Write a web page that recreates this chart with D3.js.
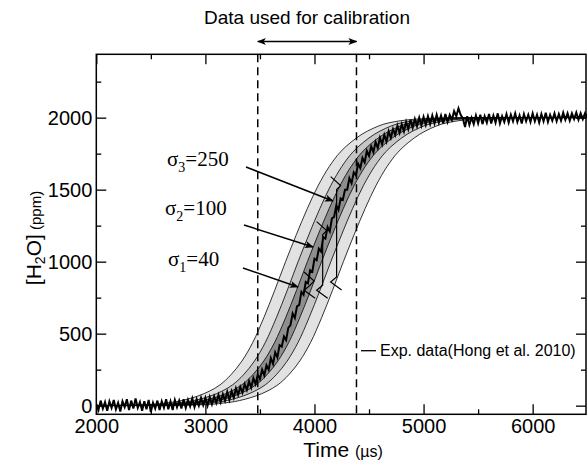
<!DOCTYPE html>
<html>
<head>
<meta charset="utf-8">
<script src="https://cdn.jsdelivr.net/npm/d3@7"></script>
<style>
  body { margin: 0; background: #fff; }
  svg { display: block; }
  text { font-family: "Liberation Sans", Arial, sans-serif; fill: #000; }
  .serif { font-family: "Liberation Serif", "Times New Roman", serif; }
</style>
</head>
<body>
<div id="chart"></div>
<script>
// model curve (time in µs, H2O in ppm)
const modelTime = [2000, 2500, 2800, 2900, 3000, 3100, 3200, 3300, 3400, 3500, 3600, 3700, 3800, 3900,
  4000, 4100, 4200, 4300, 4400, 4500, 4600, 4700, 4800, 4900, 5000, 5100, 5200, 5400, 5600, 6500];
const modelPpm = [0, 3, 10, 18, 28, 45, 68, 100, 145, 215, 310, 440, 610, 800,
  1000, 1190, 1370, 1530, 1660, 1760, 1830, 1885, 1925, 1955, 1972, 1983, 1990, 1997, 2000, 2000];

// band half widths in time (µs), outer to inner
const bandShift = [265, 150, 65];
const bandFill = ['#e2e2e2', '#c6c6c6', '#8e8e8e'];

// experimental trace, one sample every 20 µs from 2000 µs
const expStart = 2000;
const expStep = 20;
const expPpm = [
  10, -30, 35, -20, 25, -35, 30, -15, 40, -25,
  20, -40, 30, -10, 45, -30, 35, -20, 50, -15,
  25, -35, 30, -25, 40, -45, 20, -20, 35, -30,
  30, -15, 45, -25, 30, -30, 40, -10, 35, -20,
  45, -15, 40, -5, 50, -10, 45, 0, 55, 5,
  55, 0, 60, 10, 65, 20, 75, 25, 80, 35,
  95, 40, 100, 55, 120, 75, 130, 90, 150, 110,
  170, 125, 190, 150, 215, 185, 250, 210, 280, 250,
  330, 290, 370, 335, 420, 410, 480, 455, 540, 560,
  640, 610, 690, 700, 790, 770, 860, 850, 940, 930,
  1020, 1010, 1090, 1070, 1170, 1160, 1240, 1210, 1300, 1310,
  1390, 1360, 1440, 1430, 1500, 1500, 1580, 1545, 1620, 1600,
  1680, 1650, 1720, 1690, 1770, 1735, 1800, 1760, 1830, 1790,
  1860, 1815, 1880, 1835, 1905, 1860, 1920, 1880, 1945, 1895,
  1955, 1905, 1970, 1920, 1985, 1930, 1990, 1940, 2000, 1945,
  2005, 1950, 2010, 1955, 2015, 1960, 2020, 1965, 2015, 1960,
  2025, 1970, 2020, 1985, 2045, 2010, 2065, 2020, 1995, 1935,
  2010, 1950, 2000, 1955, 2015, 1960, 2020, 1955, 2010, 1965,
  2025, 1960, 2015, 1965, 2030, 1960, 2010, 1970, 2025, 1965,
  2020, 1975, 2030, 1970, 2015, 1960, 2025, 1975, 2020, 1970,
  2030, 1975, 2020, 1965, 2025, 1975, 2035, 1970, 2020, 1980,
  2030, 1975, 2025, 1980, 2035, 1985, 2030, 1980, 2030, 1990,
  2035, 1985, 2030, 1990, 2030, 2000
];

// vertical markers inside the bands: time, low, high
const markers = [
  { t: 4203, lo: 838, hi: 1556 },
  { t: 4075, lo: 781, hi: 1243 },
  { t: 3960, lo: 781, hi: 893 },
];

const calibRange = [3480, 4385];

const xTicks = [2000, 3000, 4000, 5000, 6000];
const xMinor = [2500, 3500, 4500, 5500, 6500];
const yTicks = [0, 500, 1000, 1500, 2000];
const yMinor = [250, 750, 1250, 1750, 2250];

const sigmaLabels = [
  { sub: '3', val: '=250', x: 167, y: 166, from: [246, 167], to: [333, 201] },
  { sub: '2', val: '=100', x: 165, y: 215, from: [244, 225], to: [313, 247] },
  { sub: '1', val: '=40', x: 168, y: 266, from: [243, 268], to: [298, 287] },
];

const WIDTH = 587;
const HEIGHT = 461;
const PLOT = { left: 96.3, right: 587.2, top: 54.3, bottom: 414.3 };

const svg = d3.select('#chart').append('svg')
  .attr('width', WIDTH)
  .attr('height', HEIGHT);

const x = d3.scaleLinear([2000, 6500], [PLOT.left, PLOT.right]);
const y = d3.scaleLinear([-60, 2440], [PLOT.bottom, PLOT.top]);

const defs = svg.append('defs');
defs.append('clipPath').attr('id', 'plot-clip')
  .append('rect')
  .attr('x', PLOT.left).attr('y', PLOT.top)
  .attr('width', PLOT.right - PLOT.left).attr('height', PLOT.bottom - PLOT.top);

const arrowHead = (id) => defs.append('marker')
  .attr('id', id)
  .attr('viewBox', '0 0 10 10')
  .attr('refX', 9).attr('refY', 5)
  .attr('markerWidth', 9).attr('markerHeight', 9)
  .attr('markerUnits', 'userSpaceOnUse')
  .attr('orient', 'auto-start-reverse')
  .append('path')
  .attr('d', 'M0,1 L10,5 L0,9 L2.5,5 Z')
  .attr('fill', '#000');
arrowHead('arrow');

const plot = svg.append('g').attr('clip-path', 'url(#plot-clip)');

const model = modelTime.map((t, i) => [t, modelPpm[i]]);
const line = d3.line()
  .x((d) => x(d[0]))
  .y((d) => y(d[1]))
  .curve(d3.curveCatmullRom);

// shaded bands: the model curve shifted left and right in time
bandShift.forEach((s, i) => {
  const leftEdge = model.map(([t, v]) => [t - s, v]);
  const rightEdge = model.map(([t, v]) => [t + s, v]);
  const back = line(rightEdge.slice().reverse());
  plot.append('path')
    .attr('d', line(leftEdge) + 'L' + back.slice(1) + 'Z')
    .attr('fill', bandFill[i])
    .attr('stroke', 'none');
});
bandShift.forEach((s) => {
  [-s, s].forEach((shift) => {
    plot.append('path')
      .attr('d', line(model.map(([t, v]) => [t + shift, v])))
      .attr('fill', 'none')
      .attr('stroke', '#000')
      .attr('stroke-width', 0.8);
  });
});

// small vertical markers with chevron caps
markers.forEach(({ t, lo, hi }) => {
  const px = x(t);
  const top = y(hi);
  const bot = y(lo);
  plot.append('path')
    .attr('d', `M${px - 6},${top - 5} L${px + 4},${top + 4} L${px},${top + 8} L${px},${bot - 8}` +
      ` L${px - 6},${bot - 3} L${px + 5},${bot + 5}`)
    .attr('fill', 'none')
    .attr('stroke', '#000')
    .attr('stroke-width', 1.2);
});

// experimental data
const expData = expPpm.map((v, i) => [expStart + i * expStep, v]);
plot.append('path')
  .attr('d', d3.line().x((d) => x(d[0])).y((d) => y(d[1]))(expData))
  .attr('fill', 'none')
  .attr('stroke', '#000')
  .attr('stroke-width', 2)
  .attr('stroke-linejoin', 'miter');

// calibration window
calibRange.forEach((t) => {
  svg.append('line')
    .attr('x1', x(t)).attr('x2', x(t))
    .attr('y1', PLOT.top).attr('y2', PLOT.bottom)
    .attr('stroke', '#000')
    .attr('stroke-width', 1.5)
    .attr('stroke-dasharray', '8,5');
});
svg.append('line')
  .attr('x1', x(calibRange[0])).attr('x2', x(calibRange[1]))
  .attr('y1', 41.5).attr('y2', 41.5)
  .attr('stroke', '#000')
  .attr('stroke-width', 1.3)
  .attr('marker-start', 'url(#arrow)')
  .attr('marker-end', 'url(#arrow)');
svg.append('text')
  .attr('x', 307).attr('y', 24)
  .attr('text-anchor', 'middle')
  .style('font-size', '19px')
  .text('Data used for calibration');

// axes with inward ticks
const axisGroup = (axis, tx, ty) => {
  const g = svg.append('g').attr('transform', `translate(${tx},${ty})`).call(axis);
  g.attr('font-family', null);
  g.select('.domain').remove();
  g.selectAll('line').attr('stroke-width', 1.3);
  return g;
};
const fmt = d3.format('d');
const bottom = axisGroup(d3.axisBottom(x).tickValues(xTicks).tickSize(-10).tickPadding(5).tickFormat(fmt), 0, PLOT.bottom);
bottom.selectAll('text').style('font-size', '20px');
axisGroup(d3.axisBottom(x).tickValues(xMinor).tickSize(-5).tickFormat(''), 0, PLOT.bottom);
axisGroup(d3.axisTop(x).tickValues(xTicks).tickSize(-10).tickFormat(''), 0, PLOT.top);
axisGroup(d3.axisTop(x).tickValues(xMinor).tickSize(-5).tickFormat(''), 0, PLOT.top);

const left = axisGroup(d3.axisLeft(y).tickValues(yTicks).tickSize(-10).tickPadding(4).tickFormat(fmt), PLOT.left, 0);
left.selectAll('text').style('font-size', '20px');
axisGroup(d3.axisLeft(y).tickValues(yMinor).tickSize(-5).tickFormat(''), PLOT.left, 0);
axisGroup(d3.axisRight(y).tickValues(yTicks).tickSize(-10).tickFormat(''), PLOT.right - 1.2, 0);
axisGroup(d3.axisRight(y).tickValues(yMinor).tickSize(-5).tickFormat(''), PLOT.right - 1.2, 0);

svg.append('rect')
  .attr('x', PLOT.left).attr('y', PLOT.top)
  .attr('width', PLOT.right - 1.2 - PLOT.left).attr('height', PLOT.bottom - PLOT.top)
  .attr('fill', 'none')
  .attr('stroke', '#000')
  .attr('stroke-width', 1.5);

// axis titles
const xTitle = svg.append('text')
  .attr('x', 343).attr('y', 457)
  .attr('text-anchor', 'middle')
  .style('font-size', '21px');
xTitle.append('tspan').text('Time ');
xTitle.append('tspan').style('font-size', '16px').text('(µs)');

const yTitle = svg.append('text')
  .attr('transform', 'translate(41,238) rotate(-90)')
  .attr('text-anchor', 'middle')
  .style('font-size', '21px');
yTitle.append('tspan').text('[H');
yTitle.append('tspan').attr('dy', 4).style('font-size', '14px').text('2');
yTitle.append('tspan').attr('dy', -4).text('O]');
yTitle.append('tspan').style('font-size', '15px').text(' (ppm)');

// legend
svg.append('line')
  .attr('x1', 361).attr('x2', 376)
  .attr('y1', 350.7).attr('y2', 350.7)
  .attr('stroke', '#000')
  .attr('stroke-width', 1.3);
svg.append('text')
  .attr('x', 380).attr('y', 356)
  .style('font-size', '16px')
  .text('Exp. data(Hong et al. 2010)');

// sigma annotations
sigmaLabels.forEach(({ sub, val, x: lx, y: ly, from, to }) => {
  const t = svg.append('text')
    .attr('class', 'serif')
    .attr('x', lx).attr('y', ly)
    .style('font-size', '21px');
  t.append('tspan').text('σ');
  t.append('tspan').attr('dy', 6).style('font-size', '14px').text(sub);
  t.append('tspan').attr('dy', -6).text(val);
  svg.append('line')
    .attr('x1', from[0]).attr('y1', from[1])
    .attr('x2', to[0]).attr('y2', to[1])
    .attr('stroke', '#000')
    .attr('stroke-width', 1.5)
    .attr('marker-end', 'url(#arrow)');
});
</script>
</body>
</html>
